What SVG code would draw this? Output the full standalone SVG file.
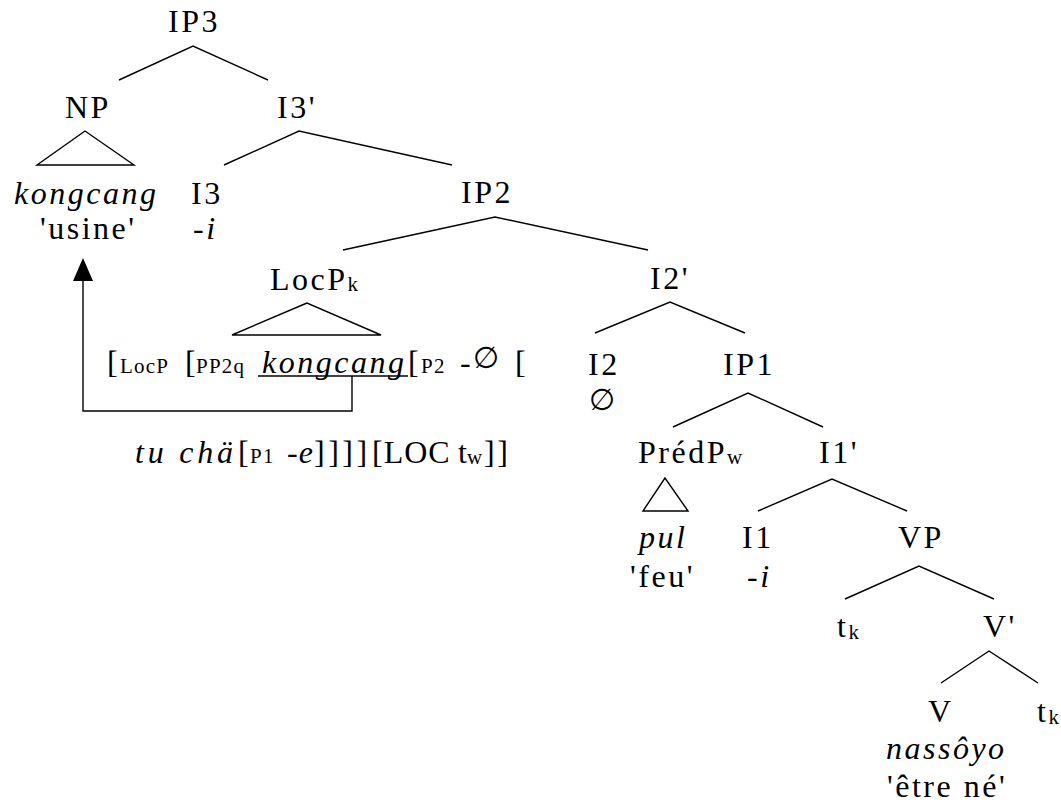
<svg xmlns="http://www.w3.org/2000/svg" width="1061" height="805" viewBox="0 0 1061 805">
<defs>
<style>
text{font-family:"Liberation Serif","Times New Roman",serif;font-size:32px;letter-spacing:2.5px;fill:#000}
.i{font-style:italic}
.s{font-size:21px;letter-spacing:1.2px;font-style:normal}
.b{letter-spacing:0}
.e{font-family:"DejaVu Sans","Liberation Serif",sans-serif;font-size:30px;font-style:normal;letter-spacing:0}
.ln{stroke:#000;stroke-width:1.4;fill:none}
</style>
</defs>
<rect width="1061" height="805" fill="#fff"/>
<g id="connectors" class="ln">
<polyline points="119,80 193,46 268,80"/>
<polygon points="85,131 37,165 134,165"/>
<polyline points="224,165 299,131 452,165"/>
<polyline points="343,250 495,217 648,250"/>
<polygon points="307,303 232,335 381,335"/>
<polyline points="595,333 670,302 745,333"/>
<polyline points="673,427 748,393 823,427"/>
<polygon points="665,478 643,511 688,511"/>
<polyline points="758,511 832,479 907,511"/>
<polyline points="845,599 919,566 994,599"/>
<polyline points="941,683 989,651 1038,683"/>
<line x1="258" y1="376" x2="408" y2="376"/>
<polyline points="352,376 352,411 83,411 83,280"/>
<polygon points="83,258 73,281 93,281" fill="#000" stroke="none"/>
</g>
<g id="IP3"><text x="168" y="32">IP3</text></g>
<g id="NP"><text x="65" y="118">NP</text></g>
<g id="I3bar"><text x="277" y="118">I3'</text></g>
<g id="kongcang"><text x="14" y="204" class="i">kongcang</text><text x="40" y="239">'usine'</text></g>
<g id="I3"><text x="191" y="204">I3</text><text x="193" y="239" class="i">-i</text></g>
<g id="IP2"><text x="461" y="203">IP2</text></g>
<g id="LocP"><text x="270" y="290">LocP<tspan class="s" dy="1">k</tspan></text></g>
<g id="I2bar"><text x="650" y="289">I2'</text></g>
<g id="LocP-content">
<text y="373"><tspan x="107" class="b">[</tspan><tspan x="120" class="s">LocP</tspan><tspan x="185" class="b">[</tspan><tspan x="196" class="s">PP2q</tspan><tspan x="262" class="i">kongcang</tspan><tspan x="408" class="b">[</tspan><tspan x="421" class="s">P2</tspan><tspan x="460" class="b">-</tspan><tspan x="473" dy="-5" class="e">∅</tspan><tspan x="515" dy="5" class="b">[</tspan></text>
<text y="463"><tspan x="135" class="i" style="letter-spacing:3.8px">tu chä</tspan><tspan x="238" class="b">[</tspan><tspan x="250" class="s">P1</tspan><tspan x="287" class="i" style="letter-spacing:1px">-e</tspan><tspan x="314" style="letter-spacing:3.5px">]]]]</tspan><tspan x="372" style="letter-spacing:1px">[LOC</tspan><tspan x="458" class="b">t</tspan><tspan x="467" class="s" dy="1" style="letter-spacing:0">w</tspan><tspan x="484" dy="-1">]]</tspan></text>
</g>
<g id="I2"><text x="588" y="375">I2</text><text x="589" y="410" class="e">∅</text></g>
<g id="IP1"><text x="723" y="375">IP1</text></g>
<g id="PredP"><text x="638" y="463">PrédP<tspan class="s" dy="1">w</tspan></text></g>
<g id="I1bar"><text x="819" y="463">I1'</text></g>
<g id="pul"><text x="639" y="548" class="i">pul</text><text x="630" y="587">'feu'</text></g>
<g id="I1"><text x="742" y="548">I1</text><text x="747" y="587" class="i">-i</text></g>
<g id="VP"><text x="898" y="548">VP</text></g>
<g id="tk1"><text x="837" y="637">t<tspan class="s" dy="2">k</tspan></text></g>
<g id="Vbar"><text x="983" y="637">V'</text></g>
<g id="V"><text x="928" y="722">V</text><text x="886" y="759" class="i">nassôyo</text><text x="887" y="797">'être né'</text></g>
<g id="tk2"><text x="1037" y="722">t<tspan class="s" dy="2">k</tspan></text></g>
</svg>
